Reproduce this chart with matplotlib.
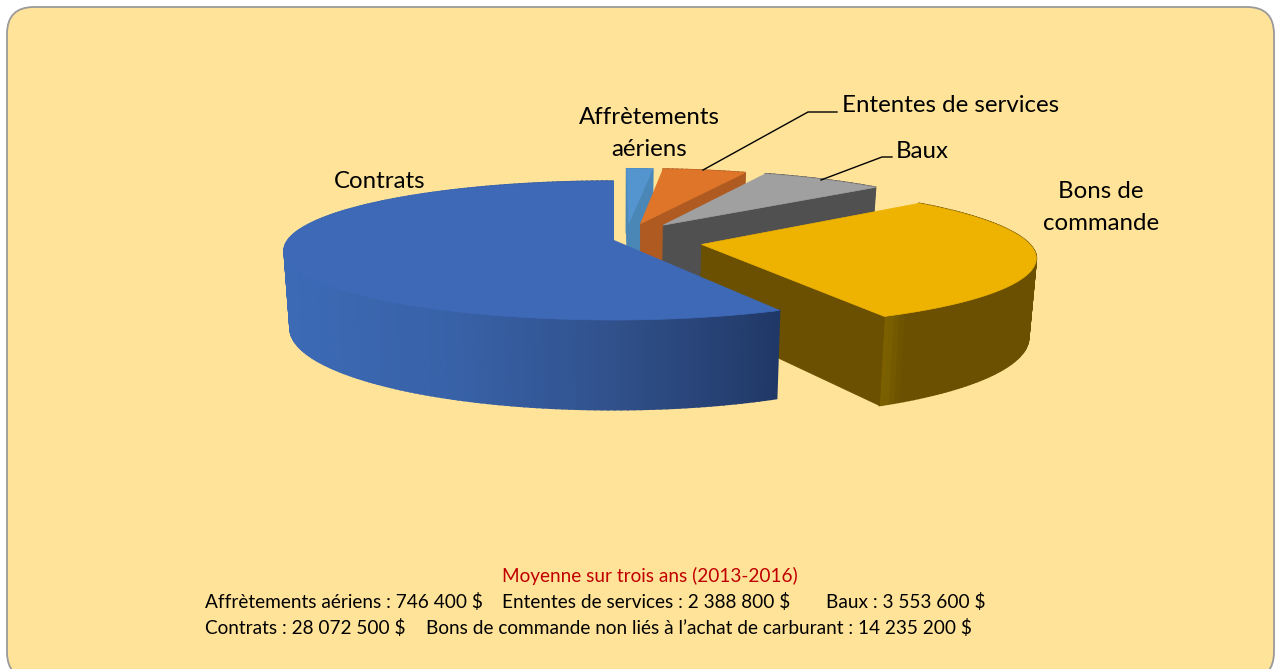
#! /usr/bin/python

import numpy as np
import matplotlib
matplotlib.use("Agg")
import matplotlib.pyplot as plt
from matplotlib.patches import FancyBboxPatch

categories = ["Affrètements aériens", "Ententes de services", "Baux", "Bons de commande", "Contrats"]
valeurs = [746400, 2388800, 3553600, 14235200, 28072500]

couleurs_dessus = ["#5495CF", "#DE7529", "#A0A0A0", "#EEB200", "#3E69B7"]
couleurs_cote = ["#4A86B6", "#AE5A21", "#505050", "#6A5000", "#3C6AB5"]

# decalage de chaque part (u, v) dans le plan de la tarte
decalages = [(0.05, 0.25), (0.088, 0.25), (0.16, 0.227), (0.27, -0.065), (0.0, 0.0)]

CX, CY = 613.0, 240.0
RX, RY = 325.0, 67.8
P = 0.1525
PROF = 76.0

plt.rcParams["font.family"] = ["Lato", "DejaVu Sans"]


def projeter(u, v, bas=False):
    s = 1.0 / (1.0 + P * v)
    x = CX + RX * u * s
    y = CY - RY * v * s
    if bas:
        x = CX + (x - CX) * 0.982
        y = y + PROF * s
    return x, y


def couleur_gradient(x, i):
    if i == 4:
        xs = [285, 450, 620, 780]
        cs = [(0x3C, 0x6A, 0xB5), (0x38, 0x62, 0xA8), (0x30, 0x50, 0x8A), (0x20, 0x38, 0x66)]
    elif i == 3:
        xs = [889, 905, 1040]
        cs = [(0x7C, 0x60, 0x00), (0x6A, 0x50, 0x00), (0x6A, 0x50, 0x00)]
    else:
        return couleurs_cote[i]
    return tuple(np.interp(x, xs, [c[k] for c in cs]) / 255.0 for k in range(3))


def dessiner_rayon(ax, i, u, v):
    du, dv = decalages[i]
    ax0, ay0 = projeter(du, dv)
    ax1, ay1 = projeter(u, v)
    bx1, by1 = projeter(u, v, True)
    bx0, by0 = projeter(du, dv, True)
    ax.fill([ax0, ax1, bx1, bx0], [ay0, ay1, by1, by0], color=couleurs_cote[i], lw=0.6, zorder=2)


def dessiner_part(ax, i, a0, a1):
    du, dv = decalages[i]
    angles = np.radians(np.arange(a0, a1 + 0.5, 1.0))
    angles[-1] = np.radians(a1)
    us = np.sin(angles) + du
    vs = np.cos(angles) + dv

    # la fine part du haut montre aussi son rayon de depart
    if i == 0:
        dessiner_rayon(ax, i, us[0], vs[0])

    # cote courbe
    for k in range(len(angles) - 1):
        x0, y0 = projeter(us[k], vs[k])
        x1, y1 = projeter(us[k + 1], vs[k + 1])
        x2, y2 = projeter(us[k + 1], vs[k + 1], True)
        x3, y3 = projeter(us[k], vs[k], True)
        c = couleur_gradient((x0 + x1) / 2, i)
        ax.fill([x0, x1, x2, x3], [y0, y1, y2, y3], color=c, lw=1.2, zorder=2)

    # cote droit (rayon de fin)
    dessiner_rayon(ax, i, us[-1], vs[-1])

    # dessus
    ax0, ay0 = projeter(du, dv)
    px, py = projeter(us, vs)
    ax.fill(np.r_[ax0, px], np.r_[ay0, py], color=couleurs_dessus[i], lw=0.5, zorder=2)


def main():
    fig = plt.figure(figsize=(12.76, 6.69), dpi=100, facecolor="white")
    ax = fig.add_axes([0, 0, 1, 1])
    ax.set_xlim(0, 1276)
    ax.set_ylim(669, 0)
    ax.axis("off")

    ax.add_patch(FancyBboxPatch((7 + 27, 7 + 27), 1267 - 54, 672 - 54,
                                boxstyle="round,pad=27,rounding_size=27",
                                fc="#FFE399", ec="#9A9A9A", lw=1.3, zorder=1))

    total = float(sum(valeurs))
    angle = 0.0
    for i in range(len(valeurs)):
        a1 = angle + 360.0 * valeurs[i] / total
        dessiner_part(ax, i, angle, a1)
        angle = a1

    ax.plot([703, 808, 837], [170, 112, 112], color="black", lw=1, zorder=3)
    ax.plot([821, 882, 892], [180, 157, 157], color="black", lw=1, zorder=3)

    fs = 17.3
    ax.text(649, 118, "Affrètements", ha="center", va="center", fontsize=fs, zorder=4)
    ax.text(649, 150, "aériens", ha="center", va="center", fontsize=fs, zorder=4)
    ax.text(380, 181, "Contrats", ha="center", va="center", fontsize=fs, zorder=4)
    ax.text(842, 105, "Ententes de services", ha="left", va="center", fontsize=fs, zorder=4)
    ax.text(896, 151, "Baux", ha="left", va="center", fontsize=fs, zorder=4)
    ax.text(1101, 191, "Bons de", ha="center", va="center", fontsize=fs, zorder=4)
    ax.text(1101, 223, "commande", ha="center", va="center", fontsize=fs, zorder=4)

    fb = 13.7
    ax.text(650, 576, "Moyenne sur trois ans (2013-2016)", ha="center", va="center",
            fontsize=fb, color="#C00000", zorder=4)
    ax.text(205, 602, "Affrètements aériens : 746 400 $", ha="left", va="center", fontsize=fb, zorder=4)
    ax.text(502, 602, "Ententes de services : 2 388 800 $", ha="left", va="center", fontsize=fb, zorder=4)
    ax.text(826, 602, "Baux : 3 553 600 $", ha="left", va="center", fontsize=fb, zorder=4)
    ax.text(205, 628, "Contrats : 28 072 500 $", ha="left", va="center", fontsize=fb, zorder=4)
    ax.text(426, 628, "Bons de commande non liés à l’achat de carburant : 14 235 200 $", ha="left",
            va="center", fontsize=fb, zorder=4)

    fig.savefig("out.png", dpi=100)


if __name__ == "__main__":
    main()
